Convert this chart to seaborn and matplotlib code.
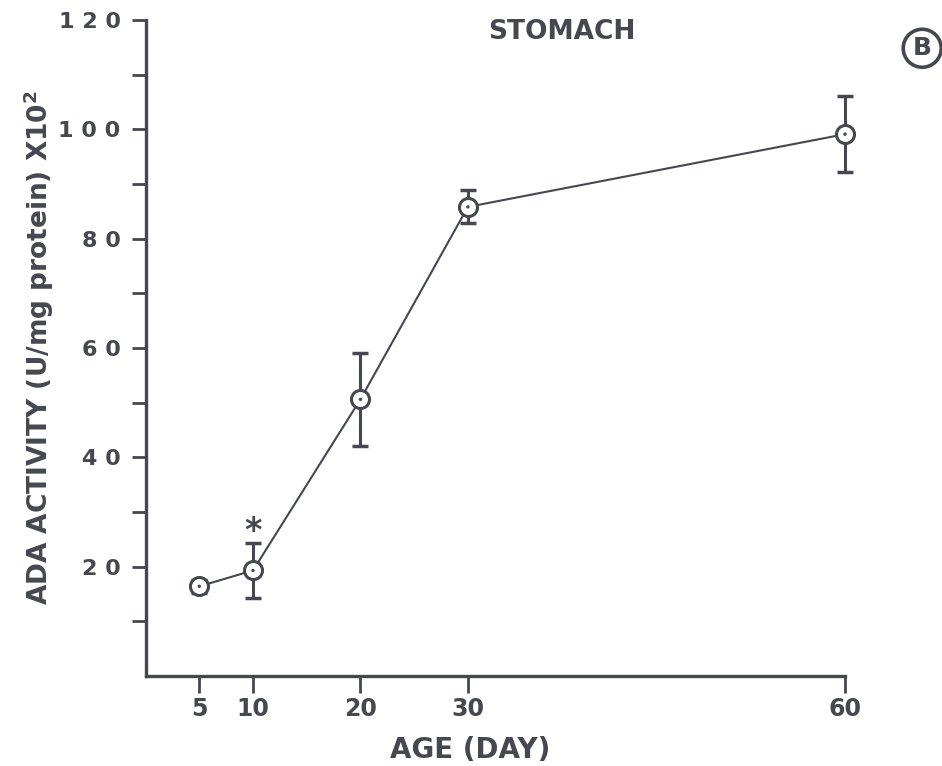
import numpy as np
import pandas as pd
import seaborn as sns
import matplotlib.pyplot as plt

# dados
dias = [5, 10, 20, 30, 60]
atividade = [16.4, 19.3, 50.6, 85.8, 99.1]
erro = [1.2, 5.1, 8.5, 3.0, 6.9]
ticks_y = [20, 40, 60, 80, 100, 120]
ticks_y_menores = [10, 30, 50, 70, 90, 110]

COR = "#45484f"
K = 1.17  # trecho 30-60 esticado no original

def fwd(x):
    x = np.asarray(x, dtype=float)
    return np.where(x <= 30, x, 30 + (x - 30) * K)

def inv(y):
    y = np.asarray(y, dtype=float)
    return np.where(y <= 30, y, 30 + (y - 30) / K)

df = pd.DataFrame({"dia": dias, "ada": atividade, "erro": erro})

sns.set_theme(style="ticks")
plt.rcParams["font.family"] = ["DejaVu Sans"]
plt.rcParams["font.weight"] = "bold"

fig = plt.figure(figsize=(9.42, 7.66), dpi=100)
ax = fig.add_axes([0.1545, 0.1175, 0.7425, 0.8565])
ax.set_xscale("function", functions=(fwd, inv))

eb = ax.errorbar(df.dia, df.ada, yerr=df.erro, fmt="none", ecolor=COR,
                 elinewidth=2.2, capsize=6, capthick=2.5, zorder=2)
for art in eb.get_children():
    art.set_clip_on(False)
sns.lineplot(data=df, x="dia", y="ada", ax=ax, color=COR, lw=1.5,
             marker="o", markersize=13, markerfacecolor="white",
             markeredgecolor=COR, markeredgewidth=2.2, zorder=3, clip_on=False)
sns.scatterplot(data=df, x="dia", y="ada", ax=ax, color=COR, s=6,
                edgecolor="none", zorder=4, clip_on=False)

ax.text(10, 26.5, "*", ha="center", va="center", fontsize=24,
        color=COR, fontweight="bold")

ax.set_xlim(0, 60)
ax.set_ylim(0, 120)
ax.set_xticks(dias)
ax.set_xticklabels([str(d) for d in dias])
ax.set_yticks(ticks_y)
ax.set_yticklabels([" ".join(str(t)) for t in ticks_y])
ax.set_yticks(ticks_y_menores, minor=True)

sns.despine(ax=ax)
for s in ["left", "bottom"]:
    ax.spines[s].set_linewidth(2.4)
    ax.spines[s].set_color(COR)
ax.tick_params(axis="y", which="major", length=10, width=2, color=COR,
               labelsize=16, labelcolor=COR, pad=8)
ax.tick_params(axis="y", which="minor", length=10, width=2, color=COR)
ax.tick_params(axis="x", which="major", length=12, width=2, color=COR,
               labelsize=17, labelcolor=COR, pad=3)
ax.tick_params(axis="x", which="minor", length=0)

ax.set_xlabel("AGE (DAY)", fontsize=20, color=COR, fontweight="bold")
ax.xaxis.set_label_coords(0.464, -0.092)
ax.set_ylabel("ADA ACTIVITY (U/mg protein) X10$^\\mathbf{2}$", fontsize=19,
              color=COR, fontweight="bold")
ax.yaxis.set_label_coords(-0.128, 0.5)
ax.text(0.595, 0.982, "STOMACH", transform=ax.transAxes, ha="center",
        va="center", fontsize=19, color=COR, fontweight="bold")

fig.text(0.979, 0.937, "B", ha="center", va="center", fontsize=18,
         color=COR, fontweight="bold",
         bbox=dict(boxstyle="circle,pad=0.28", fc="white", ec=COR, lw=2.6))

plt.savefig("out.png", dpi=100)
